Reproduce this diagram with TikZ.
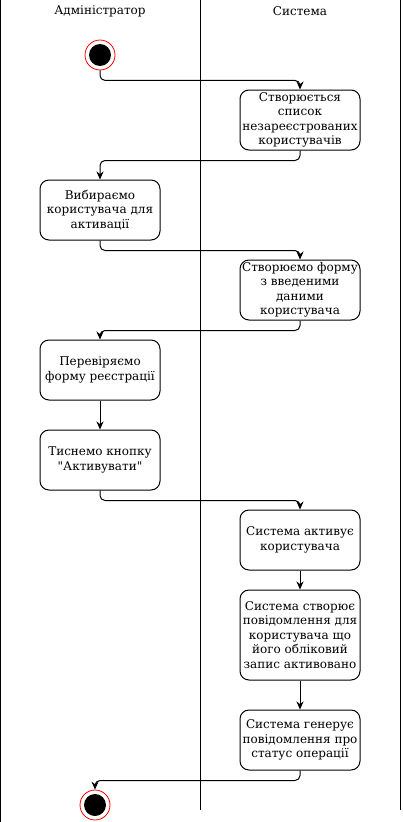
\documentclass[tikz,border=0pt]{standalone}
\usepackage{fontspec}
\newfontfamily\diagramfont{DejaVu Serif}
\usetikzlibrary{arrows.meta}

\begin{document}
\begin{tikzpicture}[x=1pt,y=-1pt,font=\diagramfont\fontsize{12}{14.5}\selectfont]
	 \tikzstyle{action}=[rectangle,draw,line width=1pt,rounded corners=9pt,minimum width=120pt,minimum height=60pt,align=center,inner sep=1pt]
	 \tikzstyle{lane title}=[inner sep=0pt]
	 \tikzstyle{state}=[circle,draw=red,line width=0.8pt,fill=white,minimum size=30pt,inner sep=0pt,path picture={\fill[black] (path picture bounding box.center) circle (11pt);}]
	 \tikzstyle{edge}=[draw,-{Stealth[length=8pt,width=7pt]},black,line width=1pt,rounded corners=5pt]
	 \tikzstyle{lane}=[-,black,line width=1pt]

	\useasboundingbox (0,0) rectangle (402,822);
	\draw[lane] (0.5,0) -- (0.5,822);
	\draw[lane] (200,0) -- (200,810);
	\draw[lane] (400,0) -- (400,810);

	\node[lane title] (admin) at (100,11) 	{Адміністратор};
	\node[lane title] (system) at (300,11) 	{Система};

	\node[state] (start) at (100,55) 		{};
	\node[action] (list) at (300,120) 		{Створюється\\список\\незареєстрованих\\користувачів};
	\node[action] (choose) at (100,210) 		{Вибираємо\\користувача для\\активації};
	\node[action] (form) at (300,290) 		{Створюємо форму\\з введеними\\даними\\користувача};
	\node[action] (check) at (100,370) 		{Перевіряємо\\форму реєстрації};
	\node[action] (press) at (100,460) 		{Тиснемо кнопку\\"Активувати"};
	\node[action] (activate) at (300,540) 	{Система активує\\користувача};
	\node[action,minimum height=90pt] (notify) at (300,635) 	{Система створює\\повідомлення для\\користувача що\\його обліковий\\запис активовано};
	\node[action] (status) at (300,740) 		{Система генерує\\повідомлення про\\статус операції};
	\node[state] (end) at (95,805) 			{};

	\draw[edge] (start.south) -- ++(0,10) -| (list.north);
	\draw[edge] (list.south) -- ++(0,10) -| (choose.north);
	\draw[edge] (choose.south) -- ++(0,10) -| (form.north);
	\draw[edge] (form.south) -- ++(0,10) -| (check.north);
	\draw[edge] (check) -- (press);
	\draw[edge] (press.south) -- ++(0,10) -| (activate.north);
	\draw[edge] (activate) -- (notify);
	\draw[edge] (notify) -- (status);
	\draw[edge] (status.south) -- ++(0,10) -| (end.north);
\end{tikzpicture}
\end{document}
